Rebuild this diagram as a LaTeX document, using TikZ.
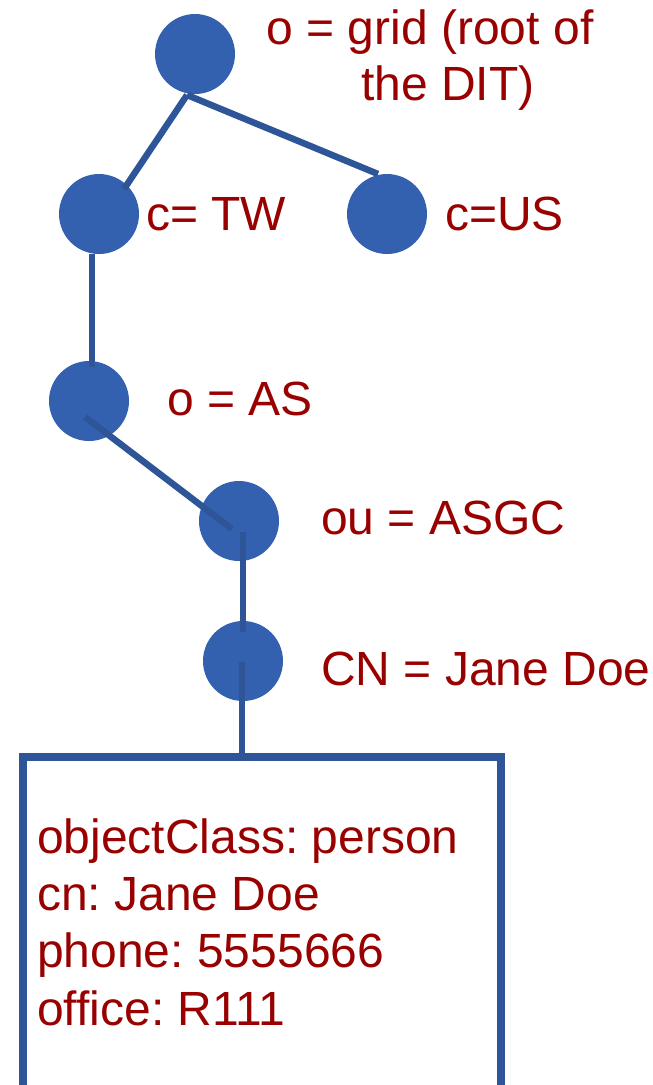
\documentclass[tikz,border=0pt]{standalone}
\usepackage{fontspec}
\setmainfont{Liberation Sans}
\usetikzlibrary{calc}
\definecolor{nodeblue}{RGB}{52,97,175}
\definecolor{edgeblue}{RGB}{46,85,151}
\definecolor{labelred}{RGB}{153,0,0}
\frenchspacing
\begin{document}
\begin{tikzpicture}[x=1pt,y=-1pt,
  entrynode/.style={circle, fill=nodeblue, minimum size=80pt, inner sep=0pt},
  edge/.style={draw=edgeblue, line width=6.5pt},
  rdn/.style={text=labelred, anchor=base west, inner sep=0pt,
              font=\fontsize{48}{56}\selectfont},
  attrbox/.style={draw=edgeblue, line width=8pt, rectangle, anchor=north west,
                  minimum width=478pt, minimum height=380pt, inner sep=0pt}]
  \clip (0,0) rectangle (653,1085);

  % tree of entries
  \node[entrynode] (root) at (195,54) {};
  \node[entrynode] (tw)   at (99,214) {};
  \node[entrynode] (us)   at (387,214) {};
  \node[entrynode] (as)   at (89,401) {};
  \node[entrynode] (asgc) at (239,521) {};
  \node[entrynode] (cn)   at (243,661) {};

  % entry attributes (anchored on the baseline of the last line)
  \node[attrbox] (entry) at (19,753) {};
  \node[rdn, align=left, font=\fontsize{48}{57.3}\selectfont] (attrs) at (37,1025)
    {objectClass: person\\cn: Jane Doe\\phone: 5555666\\office: R111};

  % labels
  \node[rdn, align=center, anchor=base] (rootlbl) at (430,100)
    {o = grid (root of\\\hspace*{36pt}the DIT)};
  \node[rdn] (twlbl)   at (146,230) {c= TW};
  \node[rdn] (uslbl)   at (445,230) {c=US};
  \node[rdn] (aslbl)   at (167,415) {o = AS};
  \node[rdn] (asgclbl) at (321,534) {ou = ASGC};
  \node[rdn] (cnlbl)   at (321,685) {CN = Jane Doe};

  % links between entries
  \coordinate (rootfoot) at ($(root)+(-8,41)$);
  \coordinate (cnfoot) at ($(cn)+(-1,1)$);
  \draw[edge] (rootfoot) -- ($(tw)+(25,-25)$);
  \draw[edge] (rootfoot) -- ($(us)+(-9,-40)$);
  \draw[edge] ($(tw)+(-7,40)$) -- ($(as)+(3,-34)$);
  \draw[edge] ($(as)+(-4,16)$) -- ($(asgc)+(-7,8)$);
  \draw[edge] ($(asgc)+(4,11)$) -- ($(cn)+(0,-29)$);
  \draw[edge] (cnfoot) -- (cnfoot |- entry.north);
\end{tikzpicture}
\end{document}
